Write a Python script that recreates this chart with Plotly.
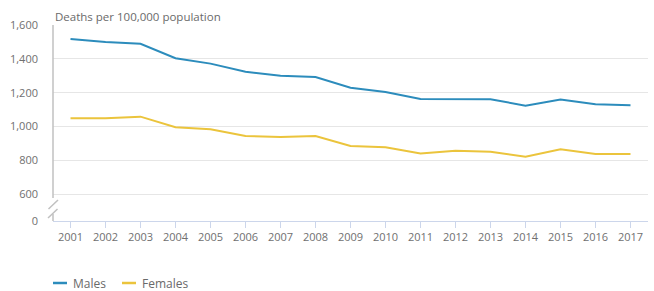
import plotly.graph_objects as go

years = list(range(2001, 2018))
males = [1517, 1500, 1489, 1404, 1372, 1324, 1301, 1293, 1230, 1204, 1163, 1163, 1162, 1124, 1160, 1132, 1126]
females = [1050, 1050, 1059, 996, 985, 945, 939, 945, 886, 878, 842, 858, 852, 823, 866, 839, 838]
series_names = ["Males", "Females"]
series_colors = ["#2c8cbc", "#ebc43c"]
y_tick_vals = [443, 600, 800, 1000, 1200, 1400, 1600]
y_tick_text = ["0", "600", "800", "1,000", "1,200", "1,400", "1,600"]
title_text = "Deaths per 100,000 population"

FONT = "Open Sans"
W, H = 654, 291
L, R, T, B = 53, 6, 25, 70
PW = W - L - R
PH = H - T - B

fig = go.Figure()
for name, vals, col in zip(series_names, [males, females], series_colors):
    fig.add_trace(go.Scatter(x=years, y=vals, name=name, mode="lines",
                             line=dict(color=col, width=2), showlegend=False))

def px_x(p):
    return (p - L) / PW

def px_y(p):
    return (T + PH - p) / PH

shapes = []
axis_col = "#c0c0c0"
# left axis line (broken)
shapes.append(dict(type="line", xref="paper", yref="paper", x0=0, x1=0,
                   y0=1, y1=px_y(198), line=dict(color=axis_col, width=1.5)))
shapes.append(dict(type="line", xref="paper", yref="paper", x0=0, x1=0,
                   y0=px_y(214), y1=0, line=dict(color=axis_col, width=1.5)))
# break marks
shapes.append(dict(type="line", xref="paper", yref="paper", x0=px_x(48.5), x1=px_x(58),
                   y0=px_y(209), y1=px_y(200), line=dict(color=axis_col, width=1.5)))
shapes.append(dict(type="line", xref="paper", yref="paper", x0=px_x(48), x1=px_x(57.5),
                   y0=px_y(218), y1=px_y(209), line=dict(color=axis_col, width=1.5)))

annotations = [dict(text=title_text, xref="paper", yref="paper", x=0, y=px_y(17),
                    xanchor="left", yanchor="middle", showarrow=False,
                    font=dict(family=FONT, size=11.5, color="#6a6a6a"))]

# legend drawn manually
leg_x = [53, 122]
for name, col, lx in zip(series_names, series_colors, leg_x):
    shapes.append(dict(type="line", xref="paper", yref="paper", x0=px_x(lx), x1=px_x(lx + 14),
                       y0=px_y(283), y1=px_y(283), line=dict(color=col, width=2.5)))
    annotations.append(dict(text=name, xref="paper", yref="paper", x=px_x(lx + 17.5),
                            y=px_y(283), xanchor="left", yanchor="middle", showarrow=False,
                            font=dict(family=FONT, size=12, color="#6a6a6a")))

fig.update_layout(
    width=W, height=H,
    margin=dict(l=L, r=R, t=T, b=B, pad=0),
    paper_bgcolor="white", plot_bgcolor="white",
    font=dict(family=FONT, size=11, color="#707070"),
    shapes=shapes, annotations=annotations,
    xaxis=dict(range=[2000.5, 2017.5], tickvals=years, ticktext=[str(y) for y in years],
               showgrid=False, zeroline=False, showline=True, linecolor="#ccd6eb", linewidth=1,
               ticks="outside", ticklen=6, tickcolor="#ccd6eb", tickwidth=1,
               tickfont=dict(family=FONT, size=11, color="#707070")),
    yaxis=dict(range=[443, 1600], tickvals=y_tick_vals, ticktext=y_tick_text,
               showgrid=True, gridcolor="#e6e6e6", gridwidth=1, zeroline=False,
               showline=False, ticks="", ticklabelstandoff=14,
               tickfont=dict(family=FONT, size=11, color="#707070")),
)

fig.write_html("out.html", config={"displayModeBar": False},
               post_script="document.body.style.margin='0';document.body.style.overflow='hidden';")
